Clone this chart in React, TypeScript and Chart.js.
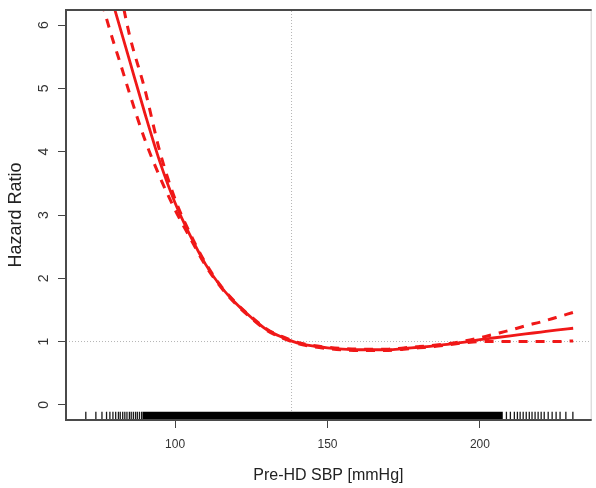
import React, { useEffect, useRef } from "react";
import { Chart, registerables } from "chart.js";

Chart.register(...registerables);

// ---- data ----
const sbp = [76, 78, 80, 82, 85, 90, 95, 100, 105, 110, 115, 120, 125, 130, 135, 140, 145, 150, 155, 160, 165, 170, 175, 180, 185, 190, 195, 200, 205, 210, 215, 220, 225, 230.6];
const hrEstimate = [6.98, 6.62, 6.28, 5.95, 5.45, 4.62, 3.84, 3.19, 2.67, 2.22, 1.87, 1.6, 1.38, 1.19, 1.07, 0.98, 0.93, 0.9, 0.88, 0.87, 0.87, 0.87, 0.89, 0.91, 0.93, 0.96, 0.99, 1.03, 1.06, 1.09, 1.12, 1.15, 1.18, 1.21];
const hrLower = [6.36, 6.02, 5.7, 5.4, 4.93, 4.2, 3.6, 3.08, 2.63, 2.2, 1.86, 1.59, 1.37, 1.18, 1.06, 0.97, 0.92, 0.89, 0.87, 0.86, 0.86, 0.86, 0.88, 0.9, 0.92, 0.95, 0.98, 1.0, 1.0, 1.0, 1.0, 1.0, 1.0, 1.01];
const hrUpper = [8.1, 7.6, 7.1, 6.55, 5.85, 5.0, 4.0, 3.25, 2.7, 2.24, 1.88, 1.61, 1.39, 1.2, 1.08, 0.99, 0.94, 0.91, 0.89, 0.88, 0.88, 0.88, 0.9, 0.92, 0.94, 0.97, 1.01, 1.06, 1.12, 1.18, 1.25, 1.31, 1.38, 1.46];

const xTickLabels = [100, 150, 200];
const yTickLabels = [0, 1, 2, 3, 4, 5, 6];
const xRange = [64.2, 236.35];
const yRange = [-0.24, 6.24];

const referenceSBP = 138.2;
const referenceHR = 1;

// rug of observed SBP values
const rugDenseRange = [89.3, 207.5];
const rugSparse = [70.7, 74.0, 76.0, 77.5, 78.6, 79.6, 80.5, 81.4, 82.0, 82.8, 83.5, 84.2, 85.0, 85.6, 86.3, 87.0, 87.6, 88.3, 89.0,
  208.7, 210.0, 211.3, 212.3, 213.2, 214.2, 215.2, 216.2, 217.1, 218.1, 219.1, 220.1, 221.1, 222.4, 223.7, 225.0, 226.3, 228.2, 230.5];
const rugLevel = -0.174;

const xTitle = "Pre-HD SBP [mmHg]";
const yTitle = "Hazard Ratio";

const FONT = '"Liberation Sans", Arial, Helvetica, sans-serif';
const RED = "rgb(240, 24, 24)";

const framePlugin = {
  id: "rframe",
  afterDraw(chart: any) {
    const { ctx, chartArea: a, scales } = chart;
    ctx.save();
    // faint right edge
    ctx.strokeStyle = "#cfcfcf";
    ctx.lineWidth = 1;
    ctx.beginPath();
    ctx.moveTo(a.right + 0.5, a.top);
    ctx.lineTo(a.right + 0.5, a.bottom);
    ctx.stroke();
    // left, top, bottom
    ctx.strokeStyle = "#4a4a4a";
    ctx.lineWidth = 2;
    ctx.beginPath();
    ctx.moveTo(a.right + 1, a.top);
    ctx.lineTo(a.left, a.top);
    ctx.lineTo(a.left, a.bottom);
    ctx.lineTo(a.right + 1, a.bottom);
    ctx.stroke();
    const ys = scales.y;
    ctx.fillStyle = "#333";
    ctx.font = `14px ${FONT}`;
    ctx.textAlign = "center";
    ctx.textBaseline = "middle";
    ys.ticks.forEach((t: any) => {
      const py = ys.getPixelForValue(t.value);
      ctx.save();
      ctx.translate(a.left - 22, py);
      ctx.rotate(-Math.PI / 2);
      ctx.fillText(String(t.value), 0, 0);
      ctx.restore();
    });
    ctx.restore();
  },
};

export default function App() {
  const ref = useRef<HTMLCanvasElement | null>(null);

  useEffect(() => {
    if (!ref.current) return;
    const pts = (ys: number[]) => sbp.map((x, i) => ({ x, y: ys[i] }));
    const chart = new Chart(ref.current, {
      type: "scatter",
      data: {
        datasets: [
          {
            label: "HR",
            data: pts(hrEstimate),
            showLine: true,
            borderColor: RED,
            borderWidth: 2.8,
            pointRadius: 0,
            cubicInterpolationMode: "monotone",
            order: 0,
          } as any,
          {
            label: "lower",
            data: pts(hrLower),
            showLine: true,
            borderColor: RED,
            borderWidth: 3,
            borderDash: [9, 8],
            borderCapStyle: "butt",
            pointRadius: 0,
            cubicInterpolationMode: "monotone",
            order: 1,
          },
          {
            label: "upper",
            data: pts(hrUpper),
            showLine: true,
            borderColor: RED,
            borderWidth: 3,
            borderDash: [9, 8],
            borderCapStyle: "butt",
            pointRadius: 0,
            cubicInterpolationMode: "monotone",
            order: 1,
          },
          {
            label: "rugDense",
            data: rugDenseRange.map((x) => ({ x, y: rugLevel })),
            showLine: true,
            borderColor: "#000",
            borderWidth: 8,
            borderCapStyle: "butt",
            pointRadius: 0,
            order: 2,
          },
          {
            label: "rugSparse",
            data: rugSparse.map((x) => ({ x, y: rugLevel })),
            showLine: false,
            pointStyle: "line",
            rotation: 90,
            pointRadius: 4,
            pointBorderWidth: 1.3,
            pointBorderColor: "#1a1a1a",
            borderColor: "#1a1a1a",
            order: 2,
          } as any,
          {
            label: "refH",
            data: xRange.map((x) => ({ x, y: referenceHR })),
            showLine: true,
            borderColor: "#b5b5b5",
            borderWidth: 1,
            borderDash: [1, 2],
            pointRadius: 0,
            order: 3,
          },
          {
            label: "refV",
            data: yRange.map((y) => ({ x: referenceSBP, y })),
            showLine: true,
            borderColor: "#b5b5b5",
            borderWidth: 1,
            borderDash: [1, 2],
            pointRadius: 0,
            order: 3,
          },
        ],
      },
      options: {
        responsive: false,
        animation: false,
        devicePixelRatio: 1,
        layout: { padding: { top: 10, right: 1, left: 0, bottom: 0 } },
        plugins: { legend: { display: false }, tooltip: { enabled: false } },
        scales: {
          x: {
            type: "linear",
            min: xRange[0],
            max: xRange[1],
            afterBuildTicks: (s: any) => {
              s.ticks = xTickLabels.map((v) => ({ value: v }));
            },
            afterFit: (s: any) => {
              s.height = 68;
            },
            grid: { display: true, drawOnChartArea: false, drawTicks: true, tickLength: 8, color: "#444", lineWidth: 1 },
            border: { display: false },
            ticks: { color: "#333", font: { family: FONT, size: 12 }, padding: 9, maxRotation: 0, autoSkip: false },
            title: { display: true, text: xTitle, color: "#222", font: { family: FONT, size: 16 }, padding: { top: 0, bottom: 2.4 } },
          },
          y: {
            type: "linear",
            min: yRange[0],
            max: yRange[1],
            afterBuildTicks: (s: any) => {
              s.ticks = yTickLabels.map((v) => ({ value: v }));
            },
            afterFit: (s: any) => {
              s.width = 66;
            },
            grid: { display: true, drawOnChartArea: false, drawTicks: true, tickLength: 8, color: "#444", lineWidth: 1 },
            border: { display: false },
            ticks: { display: false },
            title: { display: true, text: yTitle, color: "#222", font: { family: FONT, size: 18 }, padding: { top: 5, bottom: 0 } },
          },
        },
      },
      plugins: [framePlugin],
    });
    return () => chart.destroy();
  }, []);

  return (
    <div style={{ position: "fixed", left: 0, top: 0, width: 596, height: 488, background: "#fff" }}>
      <canvas ref={ref} width={596} height={488} style={{ display: "block" }} />
    </div>
  );
}
